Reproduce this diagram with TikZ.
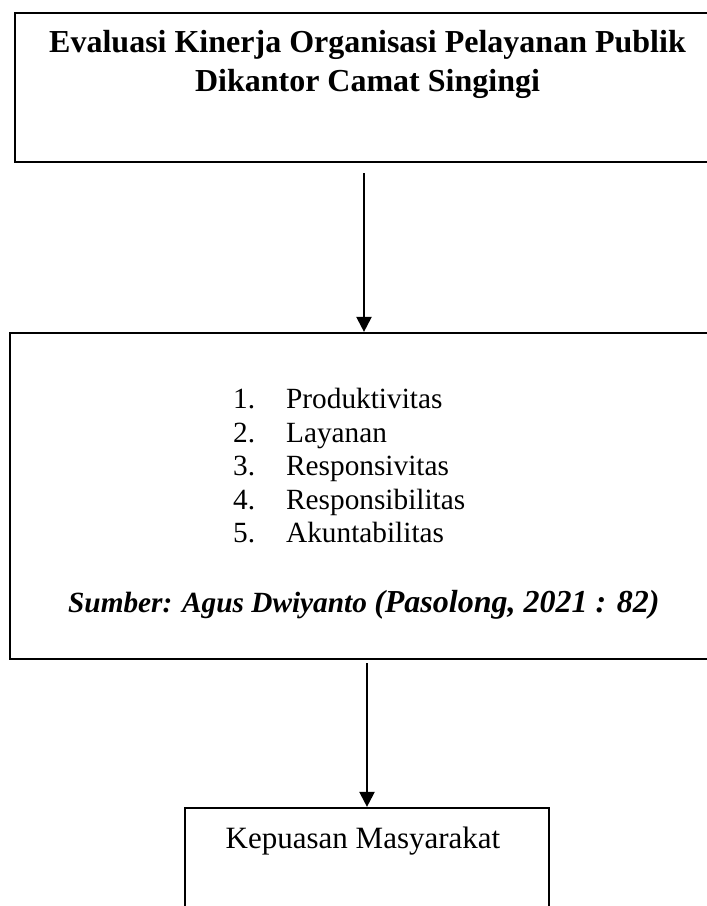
\documentclass[tikz,border=0pt]{standalone}
\usepackage{fontspec}
\setmainfont{Liberation Serif}
\usetikzlibrary{arrows.meta}
\tikzset{
  box/.style={draw=black, line width=2.2pt, rectangle, inner sep=0pt},
  arr/.style={line width=2.2pt, -{Triangle[length=15pt,width=15pt]}},
  ttl/.style={inner sep=0pt, font=\fontsize{32}{38}\selectfont\bfseries},
  itm/.style={inner sep=0pt, anchor=base west, font=\fontsize{29.3}{35}\selectfont},
}
\begin{document}
\begin{tikzpicture}[x=1pt,y=-1pt]
\useasboundingbox (0,0) rectangle (707,906);
% boxes (extend past the right / bottom edges as in the reference)
\node[box, minimum width=705pt, minimum height=149pt] (top) at (367.5,87.5) {};
\node[box, minimum width=710pt, minimum height=326pt] (mid) at (365,496) {};
\node[box, minimum width=364pt, minimum height=120pt] (bot) at (367,868) {};
% title
\node[ttl, anchor=base] (t1) at (367.5,52) {Evaluasi Kinerja Organisasi Pelayanan Publik};
\node[ttl, anchor=base] (t2) at (367.5,91) {Dikantor Camat Singingi};
% list
\node[itm] (l1) at (233,408) {\makebox[53pt][l]{1.}Produktivitas};
\node[itm] (l2) at (233,442) {\makebox[53pt][l]{2.}Layanan};
\node[itm] (l3) at (233,475) {\makebox[53pt][l]{3.}Responsivitas};
\node[itm] (l4) at (233,509) {\makebox[53pt][l]{4.}Responsibilitas};
\node[itm] (l5) at (233,542) {\makebox[53pt][l]{5.}Akuntabilitas};
\node[itm] (src) at (68,612) {\bfseries\itshape Sumber: Agus Dwiyanto {\fontsize{32}{38}\selectfont (Pasolong, 2021 : 82)}};
% bottom text
\node[inner sep=0pt, anchor=base, font=\fontsize{31}{37}\selectfont] (kp) at (363,848) {Kepuasan Masyarakat};
% connectors
\coordinate (c1) at (364,0);
\coordinate (c2) at (367,0);
\draw[arr] ([yshift=-10pt]top.south -| c1) -- (mid.north -| c1);
\draw[arr] ([yshift=-3pt]mid.south -| c2) -- (bot.north -| c2);
\end{tikzpicture}
\end{document}
